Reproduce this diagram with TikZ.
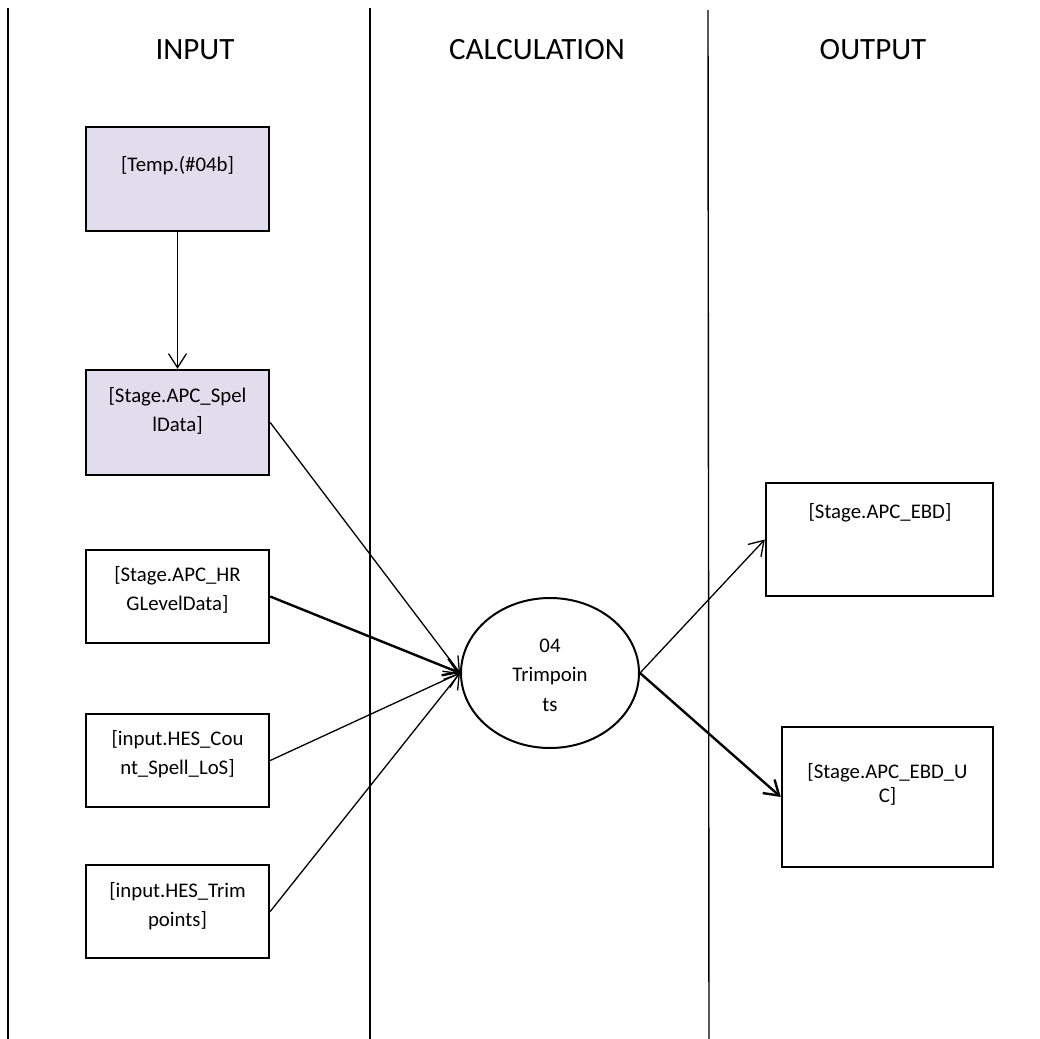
\documentclass[tikz,border=0pt]{standalone}
\usepackage{fontspec}
\setmainfont{Carlito}
\usepackage{tikz}
\usetikzlibrary{arrows.meta}
\usetikzlibrary{shapes.geometric}

\definecolor{shade}{RGB}{226,221,236}

\begin{document}
\begin{tikzpicture}[x=0.5pt,y=-0.5pt,
    box/.style={draw,line width=1.2pt,inner sep=0pt},
    txt/.style={align=center,inner sep=0pt,font=\fontsize{10.4}{14.5}\selectfont},
    head/.style={font=\fontsize{15.5}{18}\selectfont},
    flow/.style={-{Straight Barb[length=7pt,width=9pt]},line width=0.65pt},
    bigflow/.style={-{Straight Barb[length=7pt,width=9pt]},line width=1.2pt}]

    \useasboundingbox (0,0) rectangle (1040,1039);

    % lanes
    \coordinate (l1) at (8, 8);
    \coordinate (l2) at (370, 8);
    \coordinate (l3) at (708, 10);
    \draw[line width=0.7pt] (l1) -- (8, 1039);
    \draw[line width=0.7pt] (l2) -- (370, 1039);
    \draw[line width=0.7pt] (l3) -- (709, 1039);

    \node[head]         (hin) at (195, 50)       {INPUT};
    \node[head]         (hcalc) at (537, 50)     {CALCULATION};
    \node[head]         (hout) at (873, 50)      {OUTPUT};

    % input stores
    \node[box,fill=shade,minimum width=91.5pt,minimum height=52pt]   (temp) at (177.5, 179)  {};
    \node[box,fill=shade,minimum width=91.5pt,minimum height=52.5pt] (spell) at (177.5, 422.5) {};
    \node[box,minimum width=91.5pt,minimum height=46.5pt]  (hrg) at (177.5, 596.5)  {};
    \node[box,minimum width=91.5pt,minimum height=46.5pt]  (count) at (177.5, 760.5) {};
    \node[box,minimum width=91.5pt,minimum height=46.5pt]  (trim) at (177.5, 911.5) {};

    \node[txt] (tempt) at (177.5, 166)   {[Temp.(\#04b]};
    \node[txt] (spellt) at (177.5, 411)  {[Stage.APC\_Spel\\lData]};
    \node[txt] (hrgt) at (177.5, 590)    {[Stage.APC\_HR\\GLevelData]};
    \node[txt] (countt) at (177.5, 754)  {[input.HES\_Cou\\nt\_Spell\_LoS]};
    \node[txt] (trimt) at (177.5, 906)   {[input.HES\_Trim\\points]};

    % process
    \node[ellipse,draw,line width=1pt,minimum width=89pt,minimum height=75pt,inner sep=0pt] (calc) at (550, 673) {};
    \node[txt,font=\fontsize{10.4}{14.8}\selectfont] (calct) at (550, 675) {04\\Trimpoin\\ts};

    % output stores
    \node[box,minimum width=113.5pt,minimum height=56.5pt]  (ebd) at (879.5, 539.5)  {};
    \node[box,minimum width=105.5pt,minimum height=70pt]    (ebduc) at (887.5, 797)  {};

    \node[txt] (ebdt) at (880, 513)      {[Stage.APC\_EBD]};
    \node[txt,font=\fontsize{10.4}{12}\selectfont] (ebduct) at (887.5, 784) {[Stage.APC\_EBD\_U\\C]};

    \draw[flow] (temp) -- (spell);
    \draw[flow] (spell.east) -- (calc.west);
    \draw[bigflow] (hrg.east) -- (calc.west);
    \draw[flow] (count.east) -- (calc.west);
    \draw[flow] (trim.east) -- (calc.west);
    \draw[flow] (calc.east) -- (ebd.west);
    \draw[bigflow] (calc.east) -- (ebduc.west);
  \end{tikzpicture}
\end{document}
